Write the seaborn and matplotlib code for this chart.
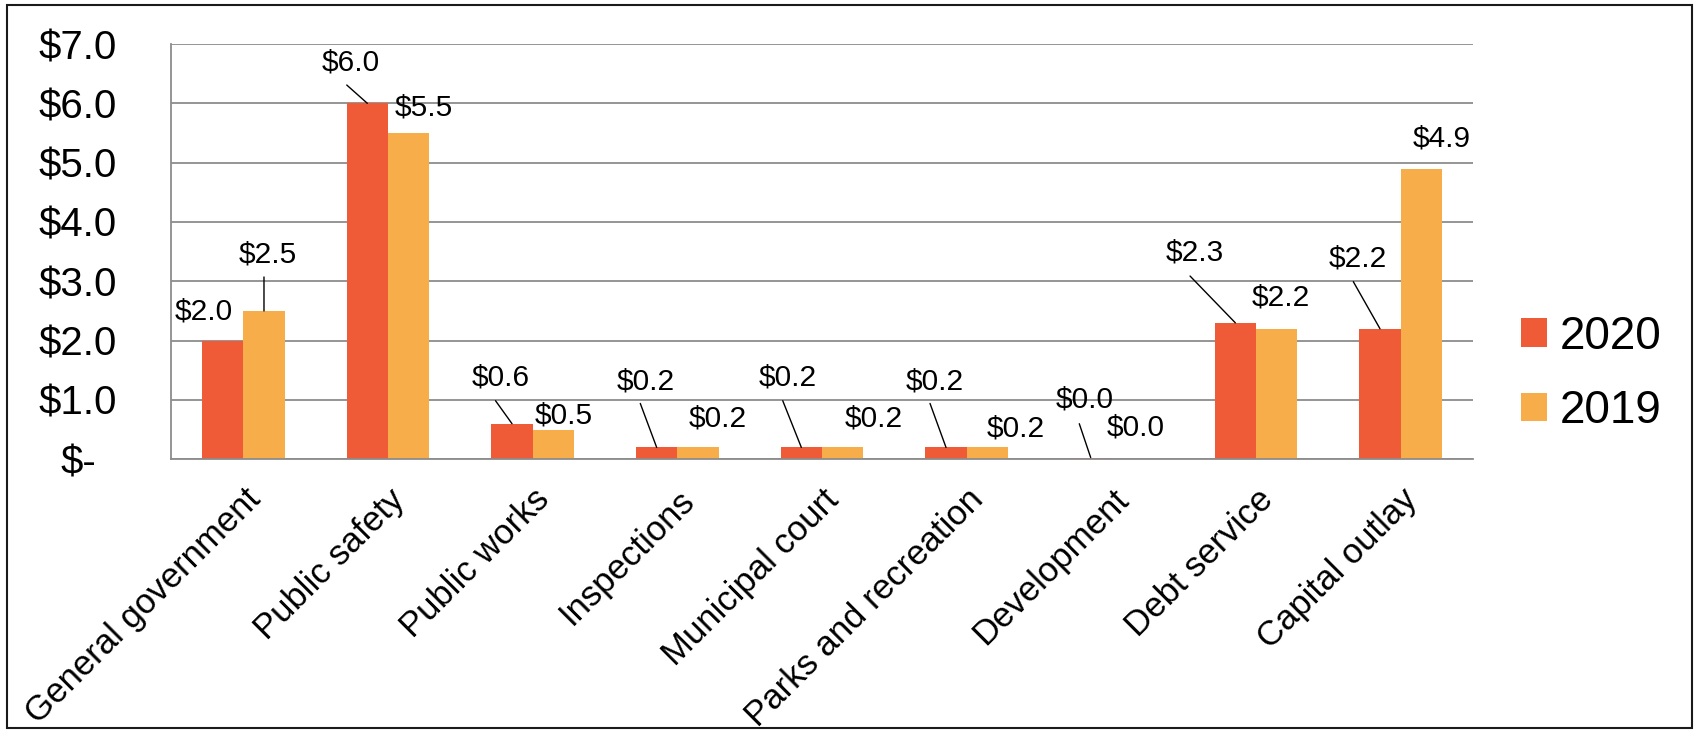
import numpy as np
import pandas as pd
import matplotlib
matplotlib.use("Agg")
import matplotlib.pyplot as plt
from matplotlib.patches import Rectangle
import seaborn as sns

# ---------------- data ----------------
categories = ["General government", "Public safety", "Public works", "Inspections",
              "Municipal court", "Parks and recreation", "Development",
              "Debt service", "Capital outlay"]
years = ["2020", "2019"]
values_2020 = [2.0, 6.0, 0.6, 0.2, 0.2, 0.2, 0.03, 2.3, 2.2]
values_2019 = [2.5, 5.5, 0.5, 0.2, 0.2, 0.2, 0.0, 2.2, 4.9]
ytick_values = [0, 1, 2, 3, 4, 5, 6, 7]
ytick_labels = ["$-", "$1.0", "$2.0", "$3.0", "$4.0", "$5.0", "$6.0", "$7.0"]

# ---------------- label placement (pixels relative to bar top, y down) ----------------
label_off_2020 = [(-19, -29), (-17, -41), (-11, -46), (-11, -66), (-14, -70),
                  (-11, -66), (-6, -58), (-41, -70), (-22, -70)]
label_off_2019 = [(4, -56), (15, -25), (10, -14), (20, -29), (31, -29),
                  (28, -19), (4, -32), (4, -31), (20, -30)]
leader_2020 = [None, (-20.6, -18.3), (-16.5, -23), (-16.4, -44), (-18.6, -46.7),
               (-16, -44), (-11.4, -33.8), (-45.3, -46.8), (-26.7, -47.1)]
leader_2019 = [(0, -34), None, None, None, None, None, None, None, None]

colors = {"2020": "#EE5B36", "2019": "#F8AD4B"}
grid_color = "#8C8C8C"

df = pd.DataFrame({
    "category": categories * 2,
    "year": ["2020"] * len(categories) + ["2019"] * len(categories),
    "value": values_2020 + values_2019,
})

sns.set_style("white")
plt.rcParams["font.family"] = ["Liberation Sans", "DejaVu Sans"]
plt.rcParams["text.color"] = "black"
plt.rcParams["xtick.labelcolor"] = "black"
plt.rcParams["ytick.labelcolor"] = "black"

W, H = 1694, 731
fig = plt.figure(figsize=(W / 100, H / 100), dpi=100)
ax_left, ax_right, ax_top, ax_bot = 171, 1473, 44, 459.3
ax = fig.add_axes([ax_left / W, 1 - ax_bot / H, (ax_right - ax_left) / W, (ax_bot - ax_top) / H])

sns.barplot(data=df, x="category", y="value", hue="year", hue_order=years,
            order=categories, palette=colors, width=0.571, errorbar=None,
            saturation=1, linewidth=0, ax=ax)

handles, labels = ax.get_legend_handles_labels()
if ax.legend_ is not None:
    ax.legend_.remove()

ax.set_xlim(-0.5, len(categories) - 0.5)
ax.set_ylim(0, 7)
ax.set_xlabel("")
ax.set_ylabel("")

# grid & spines
ax.set_axisbelow(True)
ax.yaxis.grid(True, color=grid_color, linewidth=1.3)
ax.xaxis.grid(False)
for s in ["top", "right"]:
    ax.spines[s].set_visible(False)
for s in ["left", "bottom"]:
    ax.spines[s].set_color(grid_color)
    ax.spines[s].set_linewidth(1.3)

# y ticks
ax.set_yticks(ytick_values)
ax.set_yticklabels(ytick_labels)
ax.tick_params(axis="y", length=10, width=1.3, color=grid_color, pad=57,
               labelsize=29, labelcolor="black")
for t in ax.get_yticklabels():
    t.set_horizontalalignment("center")

# x ticks: labels at centres, tick marks at boundaries
ax.set_xticks(np.arange(len(categories)))
ax.set_xticklabels(categories)
ax.set_xticks(np.arange(-0.5, len(categories)), minor=True)
ax.tick_params(axis="x", which="major", length=0, pad=17, labelsize=25,
               labelcolor="black")
ax.tick_params(axis="x", which="minor", length=7.2, width=1.3, color=grid_color)
plt.setp(ax.get_xticklabels(), rotation=45, ha="right", va="top", rotation_mode="anchor")

# data labels with leader lines
px = 0.72
for cont, vals, offs, leads in [(ax.containers[0], values_2020, label_off_2020, leader_2020),
                                (ax.containers[1], values_2019, label_off_2019, leader_2019)]:
    for bar, v, (dx, dy), ld in zip(cont.patches, vals, offs, leads):
        x = bar.get_x() + bar.get_width() / 2
        y = bar.get_height()
        ax.annotate(f"${v:.1f}", xy=(x, y), xytext=(dx * px, -dy * px),
                    textcoords="offset points", ha="center", va="center",
                    fontsize=21.5, color="black", annotation_clip=False)
        if ld is not None:
            ax.annotate("", xy=(x, y), xytext=(ld[0] * px, -ld[1] * px),
                        textcoords="offset points", annotation_clip=False,
                        arrowprops=dict(arrowstyle="-", color="black", lw=1.0,
                                        shrinkA=0, shrinkB=0))

# legend
leg = fig.legend(handles, labels, loc="center left", bbox_to_anchor=(1521 / W, 1 - 374 / H),
                 frameon=False, fontsize=33, handlelength=0.57, handleheight=0.57,
                 handletextpad=0.28, labelspacing=0.67, borderpad=0, borderaxespad=0)
for t in leg.get_texts():
    t.set_color("black")

# outer border
fig.patches.append(Rectangle((7 / W, 3 / H), (1692 - 7) / W, (726 - 3) / H,
                             transform=fig.transFigure, fill=False,
                             edgecolor="#1a1a1a", linewidth=1.5))

fig.savefig("out.png", dpi=100)
